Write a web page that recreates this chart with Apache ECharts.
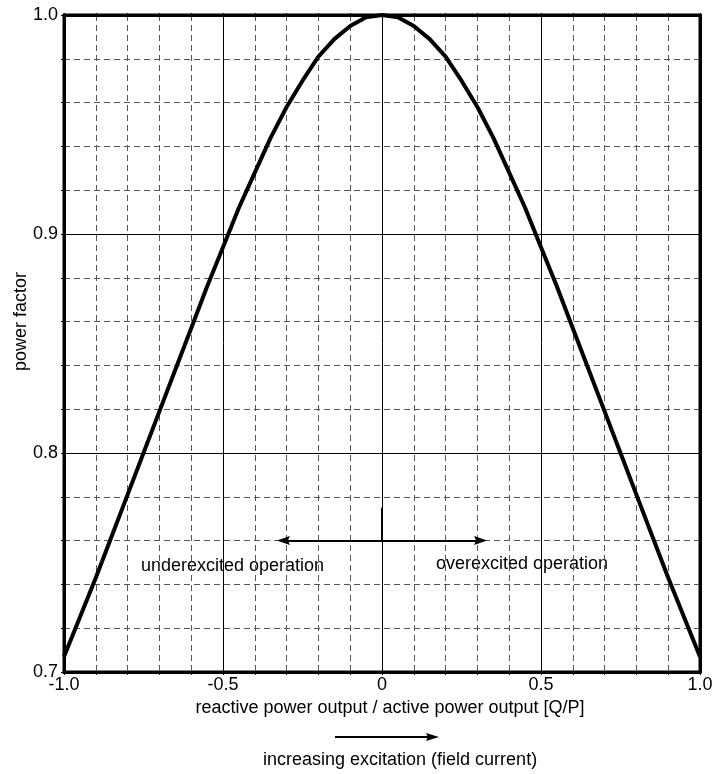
<!DOCTYPE html>
<html>
<head>
<meta charset="utf-8">
<script src="https://cdn.jsdelivr.net/npm/echarts@6/dist/echarts.min.js"></script>
<style>
  html, body { margin: 0; padding: 0; background: #fff; }
  #chart { width: 717px; height: 774px; }
</style>
</head>
<body>
<div id="chart"></div>
<script>
// Reactive-to-active power ratio (Q/P)
const qpRatio = [-1.0, -0.95, -0.9, -0.85, -0.8, -0.75, -0.7, -0.65, -0.6, -0.55, -0.5,
                 -0.45, -0.4, -0.35, -0.3, -0.25, -0.2, -0.15, -0.1, -0.05, 0.0,
                 0.05, 0.1, 0.15, 0.2, 0.25, 0.3, 0.35, 0.4, 0.45, 0.5,
                 0.55, 0.6, 0.65, 0.7, 0.75, 0.8, 0.85, 0.9, 0.95, 1.0];
// Power factor at each ratio
const powerFactor = [0.707, 0.725, 0.743, 0.762, 0.781, 0.800, 0.819, 0.838, 0.857, 0.876, 0.894,
                     0.912, 0.928, 0.944, 0.958, 0.970, 0.981, 0.989, 0.995, 0.999, 1.000,
                     0.999, 0.995, 0.989, 0.981, 0.970, 0.958, 0.944, 0.928, 0.912, 0.894,
                     0.876, 0.857, 0.838, 0.819, 0.800, 0.781, 0.762, 0.743, 0.725, 0.707];

// Operating-region arrows (data coordinates)
const arrowLevel = 0.76;
const arrowTop = 0.775;
const underexcitedEnd = -0.31;
const overexcitedEnd = 0.31;

const labels = {
  xName: 'reactive power output / active power output [Q/P]',
  yName: 'power factor',
  under: 'underexcited operation',
  over: 'overexcited operation',
  excitation: 'increasing excitation (field current)'
};

const FONT = '"Liberation Sans", Arial, sans-serif';
const FS = 18;
const chart = echarts.init(document.getElementById('chart'));

const minorGrid = { show: true, lineStyle: { color: '#555', width: 1, type: [6, 4] } };
const majorGrid = { show: true, lineStyle: { color: '#000', width: 1 } };
const fmt = v => (Math.abs(v) < 1e-9 ? '0' : v.toFixed(1));
const arrowHead = 'path://M5,0 L10,13 L5,11 L0,13 Z';

chart.setOption({
  animation: false,
  grid: {
    left: 64, right: 17, top: 15, bottom: 102,
    containLabel: false, outerBoundsMode: 'none',
    show: true, borderColor: '#000', borderWidth: 3
  },
  xAxis: [{
    type: 'value', min: -1, max: 1, interval: 0.5,
    name: labels.xName, nameLocation: 'middle', nameGap: 27, nameMoveOverlap: false,
    nameTextStyle: { fontFamily: FONT, fontSize: FS, color: '#000', padding: [0, 0, 0, 16] },
    axisLine: { show: true, onZero: false, lineStyle: { color: '#000', width: 3 } },
    axisTick: { show: true, length: 3, lineStyle: { color: '#000' } },
    minorTick: { show: true, splitNumber: 5, length: 3, lineStyle: { color: '#000' } },
    axisLabel: { formatter: fmt, fontFamily: FONT, fontSize: FS, color: '#000', margin: 4 },
    splitLine: majorGrid, minorSplitLine: minorGrid
  }, {
    type: 'value', position: 'top', min: -1, max: 1, interval: 0.5,
    axisLine: { show: true, onZero: false, lineStyle: { color: '#000', width: 3 } },
    axisTick: { show: true, length: 2, lineStyle: { color: '#000' } },
    minorTick: { show: true, splitNumber: 5, length: 2, lineStyle: { color: '#000' } },
    axisLabel: { show: false }, splitLine: { show: false }
  }],
  yAxis: [{
    type: 'value', min: 0.7, max: 1.0, interval: 0.1,
    name: labels.yName, nameLocation: 'middle', nameGap: 34, nameMoveOverlap: false,
    nameTextStyle: { fontFamily: FONT, fontSize: FS, color: '#000', padding: [0, 0, 0, 44] },
    axisLine: { show: true, onZero: false, lineStyle: { color: '#000', width: 3 } },
    axisTick: { show: true, length: 3, lineStyle: { color: '#000' } },
    minorTick: { show: true, splitNumber: 5, length: 3, lineStyle: { color: '#000' } },
    axisLabel: { formatter: fmt, fontFamily: FONT, fontSize: FS, color: '#000', margin: 6 },
    splitLine: majorGrid, minorSplitLine: minorGrid
  }, {
    type: 'value', position: 'right', min: 0.7, max: 1.0, interval: 0.1,
    axisLine: { show: true, onZero: false, lineStyle: { color: '#000', width: 3 } },
    axisTick: { show: true, length: 2, lineStyle: { color: '#000' } },
    minorTick: { show: true, splitNumber: 5, length: 2, lineStyle: { color: '#000' } },
    axisLabel: { show: false }, splitLine: { show: false }
  }],
  series: [{
    type: 'line',
    data: qpRatio.map((q, i) => [q, powerFactor[i]]),
    showSymbol: false, smooth: false, clip: false, z: 5,
    lineStyle: { color: '#000', width: 4 },
    markLine: {
      silent: true, animation: false,
      label: { show: false },
      lineStyle: { color: '#000', width: 2, type: 'solid' },
      symbol: ['none', arrowHead], symbolSize: [9, 13],
      data: [
        [{ coord: [0, arrowLevel] }, { coord: [underexcitedEnd, arrowLevel] }],
        [{ coord: [0, arrowLevel] }, { coord: [overexcitedEnd, arrowLevel] }],
        [{ coord: [0, arrowLevel], symbol: 'none' }, { coord: [0, arrowTop], symbol: 'none' }]
      ]
    }
  }],
  graphic: [
    { type: 'text', left: 141, top: 557, style: { text: labels.under, font: FS + 'px ' + FONT, fill: '#000' } },
    { type: 'text', left: 436, top: 555, style: { text: labels.over, font: FS + 'px ' + FONT, fill: '#000' } },
    { type: 'line', shape: { x1: 335, y1: 737, x2: 428, y2: 737 }, style: { stroke: '#000', lineWidth: 2 } },
    { type: 'polygon', shape: { points: [[439, 737], [426, 733], [428, 737], [426, 741]] }, style: { fill: '#000' } },
    { type: 'text', left: 263, top: 751, style: { text: labels.excitation, font: FS + 'px ' + FONT, fill: '#000' } }
  ]
});
</script>
</body>
</html>
